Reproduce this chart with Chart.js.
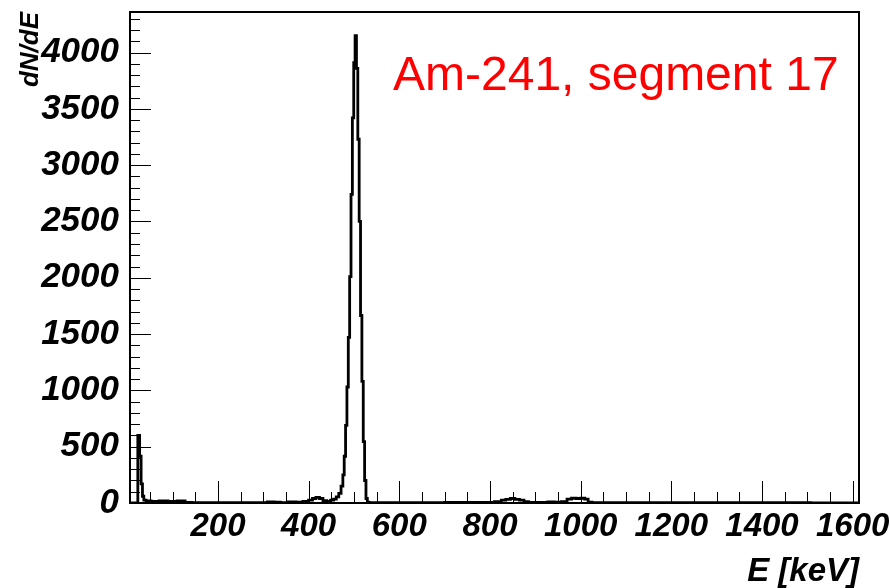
<!DOCTYPE html>
<html>
<head>
<meta charset="utf-8">
<script src="https://cdn.jsdelivr.net/npm/chart.js@4.4.0/dist/chart.umd.min.js"></script>
<style>
html, body { margin: 0; padding: 0; background: #fff; }
</style>
</head>
<body>
<canvas id="chart" width="890" height="588"></canvas>
<script>
// spectrum: bin centres (keV) and counts
var energies = [6, 21, 25.5, 29, 32, 35, 38, 45, 60, 80, 100, 120, 135, 150, 200, 250, 300, 318, 330, 345,
    365, 380, 395, 405, 412, 420, 428, 435, 445, 452, 458, 464, 469, 474, 477, 480, 483, 486, 489, 492,
    495, 498, 501, 504, 507, 510, 513, 516, 519, 522, 525, 528, 531, 535, 560, 650, 750, 800, 820, 830,
    840, 850, 860, 870, 880, 890, 920, 935, 950, 965, 975, 985, 995, 1005, 1013, 1020, 1030, 1200, 1400, 1614];
var counts = [0, 0, 600, 415, 170, 60, 25, 18, 15, 18, 15, 18, 6, 3, 2, 3, 4, 10, 8, 4,
    10, 8, 15, 25, 40, 50, 40, 20, 15, 25, 35, 55, 85, 150, 250, 415, 690, 1030, 1470, 2010,
    2740, 3420, 3910, 4150, 3860, 3230, 2500, 1665, 1080, 545, 200, 40, 8, 4, 3, 4, 5, 6, 12, 25,
    32, 40, 33, 25, 12, 6, 5, 10, 8, 12, 35, 42, 40, 42, 35, 8, 3, 2, 2, 1];

var xTickValues = [200, 400, 600, 800, 1000, 1200, 1400, 1600];
var yTickValues = [0, 500, 1000, 1500, 2000, 2500, 3000, 3500, 4000];

var fontFamily = '"Liberation Sans", Arial, Helvetica, sans-serif';

// ROOT style frame with ticks pointing inside, plus the red caption
var frameTicks = {
    id: 'frameTicks',
    afterDraw: function(chart) {
        var ctx = chart.ctx;
        var a = chart.chartArea;
        var xs = chart.scales.x;
        var ys = chart.scales.y;
        ctx.save();
        ctx.strokeStyle = '#000';
        ctx.lineWidth = 1;
        ctx.beginPath();
        for (var v = 50; v <= xs.max; v += 50) {
            if (v < xs.min) continue;
            var px = Math.round(xs.getPixelForValue(v)) + 0.5;
            var len = (v % 200 === 0) ? 22 : 11;
            ctx.moveTo(px, a.bottom);
            ctx.lineTo(px, a.bottom - len);
        }
        for (var w = 0; w <= ys.max; w += 100) {
            var py = Math.round(ys.getPixelForValue(w)) + 0.5;
            var l2 = (w % 500 === 0) ? 21 : 10;
            ctx.moveTo(a.left, py);
            ctx.lineTo(a.left + l2, py);
        }
        ctx.stroke();
        ctx.lineWidth = 2;
        ctx.strokeRect(a.left, a.top, a.right - a.left, a.bottom - a.top);

        ctx.fillStyle = '#ff0000';
        ctx.font = '48px ' + fontFamily;
        ctx.textBaseline = 'alphabetic';
        ctx.textAlign = 'left';
        ctx.fillText('Am-241, segment 17', 393, 90);
        ctx.restore();
    }
};

function build_chart() {
    var pts = [];
    for (var i = 0; i < energies.length; i++) {
        pts.push({ x: energies[i], y: counts[i] });
    }

    var config = {
        type: 'line',
        data: {
            datasets: [{
                data: pts,
                borderColor: '#000',
                borderWidth: 2.8,
                pointRadius: 0,
                fill: false,
                stepped: 'middle'
            }]
        },
        options: {
            responsive: false,
            animation: false,
            layout: { padding: { top: 12, right: 31, left: 0, bottom: 0 } },
            plugins: {
                legend: { display: false },
                tooltip: { enabled: false }
            },
            scales: {
                x: {
                    type: 'linear',
                    min: 6,
                    max: 1614,
                    grid: { display: false, drawTicks: false },
                    border: { display: false },
                    afterBuildTicks: function(s) {
                        s.ticks = xTickValues.map(function(v) { return { value: v }; });
                    },
                    afterFit: function(s) {
                        s.height = 85;
                        s.paddingLeft = 0;
                        s.paddingRight = 0;
                    },
                    ticks: {
                        padding: 4,
                        maxRotation: 0,
                        autoSkip: false,
                        color: '#000',
                        font: { family: fontFamily, size: 33, style: 'italic', weight: 'bold' },
                        callback: function(v) { return String(v); }
                    },
                    title: {
                        display: true,
                        text: 'E [keV]',
                        align: 'end',
                        color: '#000',
                        padding: { top: 0, bottom: 0 },
                        font: { family: fontFamily, size: 33, style: 'italic', weight: 'bold', lineHeight: 1 }
                    }
                },
                y: {
                    type: 'linear',
                    min: 0,
                    max: 4360,
                    grid: { display: false, drawTicks: false },
                    border: { display: false },
                    afterBuildTicks: function(s) {
                        s.ticks = yTickValues.map(function(v) { return { value: v }; });
                    },
                    afterFit: function(s) {
                        s.width = 130;
                        s.paddingTop = 0;
                        s.paddingBottom = 0;
                    },
                    ticks: {
                        padding: 11,
                        autoSkip: false,
                        color: '#000',
                        font: { family: fontFamily, size: 35, style: 'italic', weight: 'bold' },
                        callback: function(v) { return String(v); }
                    },
                    title: {
                        display: true,
                        text: 'dN/dE',
                        align: 'end',
                        color: '#000',
                        padding: { top: 18, bottom: 0 },
                        font: { family: fontFamily, size: 26, style: 'italic', weight: 'bold', lineHeight: 1 }
                    }
                }
            }
        },
        plugins: [frameTicks]
    };
    var ctx = document.getElementById('chart').getContext('2d');
    window.myChart = new Chart(ctx, config);
}

window.onload = function() {
    build_chart();
};
</script>
</body>
</html>
